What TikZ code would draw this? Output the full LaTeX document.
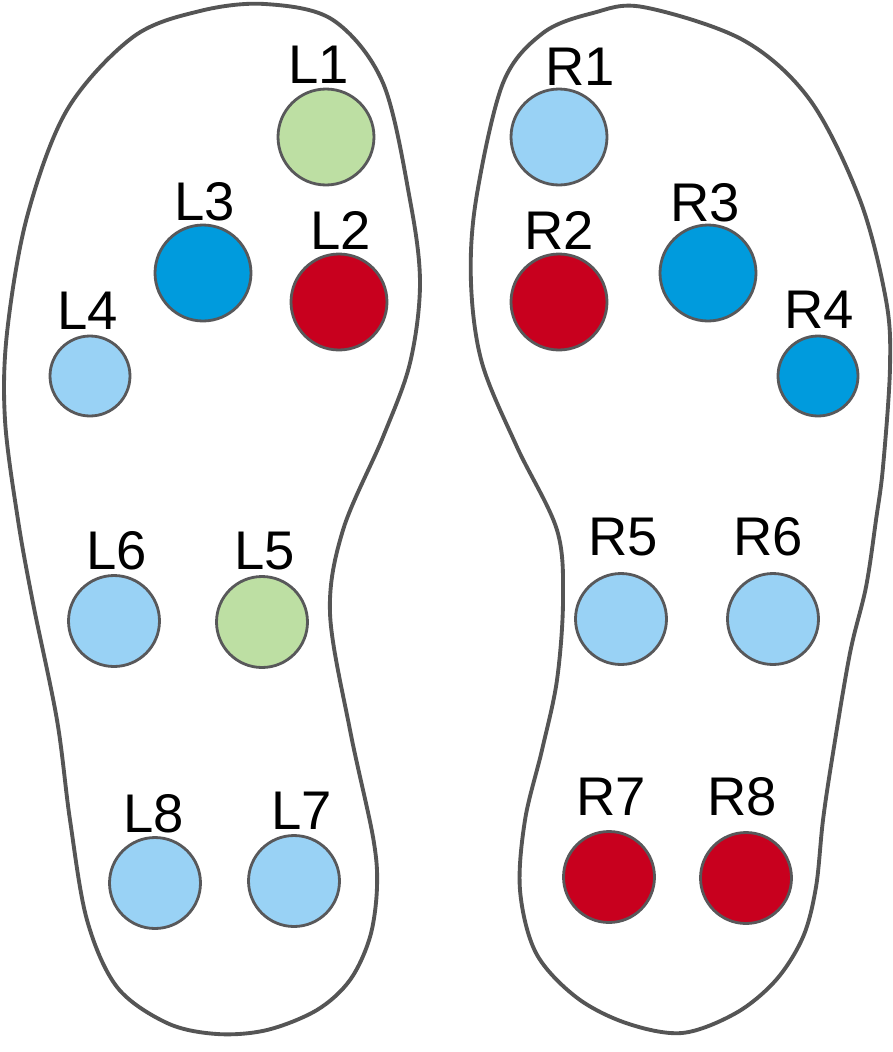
\documentclass[tikz,border=0pt]{standalone}
\usepackage{fontspec}
\setmainfont{Liberation Sans}
\definecolor{lgreen}{HTML}{BDDFA3}
\definecolor{lblue}{HTML}{99D2F5}
\definecolor{dblue}{HTML}{009BDD}
\definecolor{sred}{HTML}{C8001E}
\definecolor{rimgray}{HTML}{58585A}
\definecolor{solegray}{HTML}{555555}
\begin{document}
\begin{tikzpicture}[x=0.02cm,y=-0.02cm,
  sensor/.style={circle,draw=rimgray,line width=1.6pt,inner sep=0pt,minimum size=#1},
  big/.style={sensor=1.92cm},
  mid/.style={sensor=1.82cm},
  small/.style={sensor=1.6cm},
  lbl/.style={anchor=base,inner sep=0pt,font=\fontsize{31}{31}\selectfont},
  sole/.style={draw=solegray,line width=2.2pt,fill=white}]
\fill[white] (0,0) rectangle (893,1052);
\useasboundingbox (0,0) rectangle (893,1052);
% left sole
\draw[sole] plot[smooth cycle,tension=0.55] coordinates {
 (265,4) (333,20) (383,83) (410,200) (420,283) (410,363) (383,437) (343,530)
 (330,613) (350,730) (373,837) (377,887) (370,937)
 (350,980) (317,1010) (267,1030) (217,1034) (167,1023) (117,987) (87,920) (70,820)
 (57,720) (33,603) (18,520) (5,420) (7,333) (27,217) (67,110) (133,37) (200,11)};
% right sole
\draw[sole] plot[smooth cycle,tension=0.55] coordinates {
 (643,7) (743,40) (810,100) (860,200) (886,300) (890,367) (883,467) (876,520)
 (866,587) (850,653) (833,753) (823,820) (816,887) (803,937) (776,980) (736,1013)
 (682,1033) (626,1023) (576,997) (536,953) (520,890) (525,820) (542,750)
 (557,680) (563,600) (557,530) (517,447) (482,363) (471,283) (476,200)
 (503,83) (543,33) (593,13)};
% left sensors
\node[big,fill=lgreen] (L1) at (326,137) {};
\node[big,fill=sred]   (L2) at (339,302) {};
\node[big,fill=dblue]  (L3) at (203,273) {};
\node[small,fill=lblue](L4) at (90,376) {};
\node[mid,fill=lgreen] (L5) at (262,622) {};
\node[mid,fill=lblue]  (L6) at (114,621) {};
\node[mid,fill=lblue]  (L7) at (294,881) {};
\node[mid,fill=lblue]  (L8) at (155,883) {};
% right sensors
\node[big,fill=lblue]  (R1) at (559,137) {};
\node[big,fill=sred]   (R2) at (559,302) {};
\node[big,fill=dblue]  (R3) at (708,273) {};
\node[small,fill=dblue](R4) at (818,376) {};
\node[mid,fill=lblue]  (R5) at (621,619) {};
\node[mid,fill=lblue]  (R6) at (773,619) {};
\node[mid,fill=sred]   (R7) at (609,877) {};
\node[mid,fill=sred]   (R8) at (746,878) {};
% labels
\node[lbl] (tL1) at (319,83) {L1};
\node[lbl] (tL2) at (341,249) {L2};
\node[lbl] (tL3) at (205,220) {L3};
\node[lbl] (tL4) at (88,329) {L4};
\node[lbl] (tL5) at (265,569) {L5};
\node[lbl] (tL6) at (117,569) {L6};
\node[lbl] (tL7) at (302,829) {L7};
\node[lbl] (tL8) at (154,832) {L8};
\node[lbl] (tR1) at (580,85) {R1};
\node[lbl] (tR2) at (559,249) {R2};
\node[lbl] (tR3) at (705,221) {R3};
\node[lbl] (tR4) at (819,328) {R4};
\node[lbl] (tR5) at (623,555) {R5};
\node[lbl] (tR6) at (768,555) {R6};
\node[lbl] (tR7) at (611,815) {R7};
\node[lbl] (tR8) at (742,815) {R8};
\end{tikzpicture}
\end{document}
